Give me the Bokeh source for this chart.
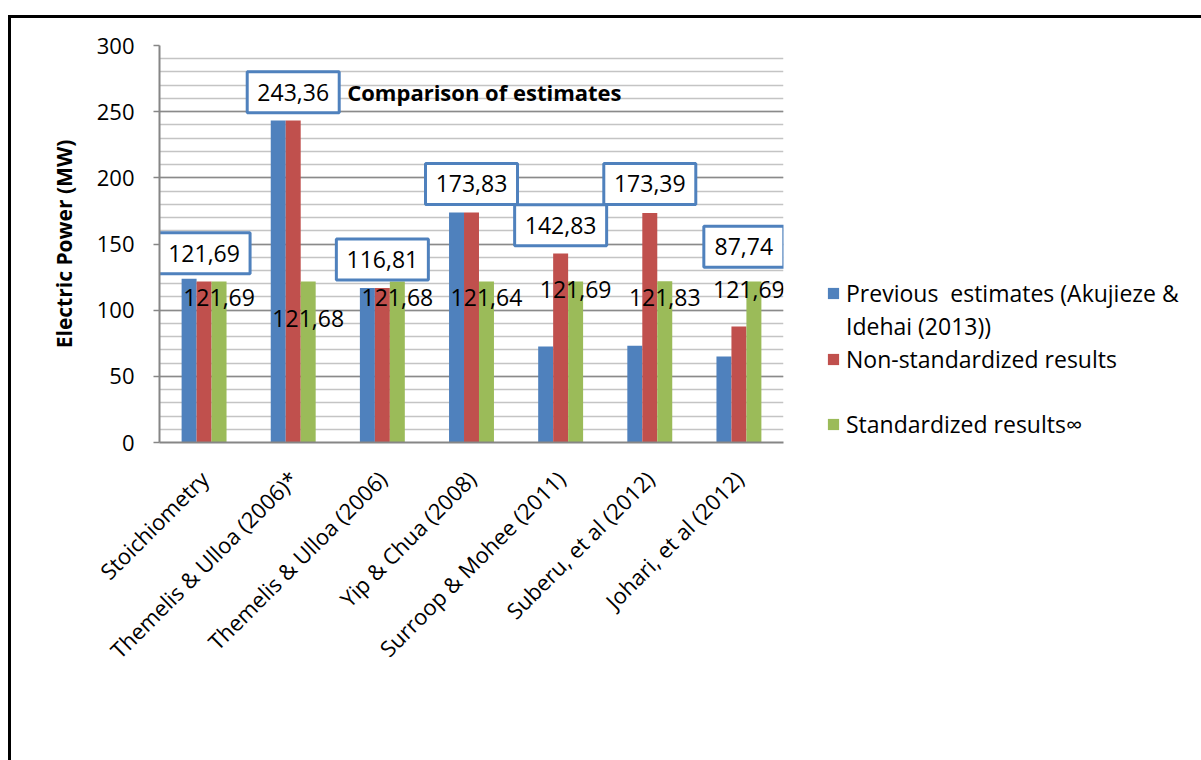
import math
from bokeh.plotting import figure
from bokeh.layouts import row
from bokeh.models import (FactorRange, Range1d, SingleIntervalTicker, Legend, LegendItem,
                          Label, ColumnDataSource)
from bokeh.transform import dodge
from bokeh.embed import file_html
from bokeh.resources import INLINE
from bokeh.core.properties import value

# ---------------- data ----------------
categories = ["Stoichiometry", "Themelis & Ulloa (2006)*", "Themelis & Ulloa (2006)",
              "Yip & Chua (2008)", "Surroop & Mohee (2011)", "Suberu, et al (2012)",
              "Johari, et al (2012)"]
previous_estimates = [123.7, 243.36, 116.81, 173.83, 72.6, 73.1, 65.0]
non_standardized = [121.69, 243.36, 116.81, 173.83, 142.83, 173.39, 87.74]
standardized = [121.69, 121.68, 121.68, 121.64, 121.69, 121.83, 121.69]
series_names = ["Previous  estimates (Akujieze &", "Non-standardized results",
                "Standardized results\u221e"]
legend_line2 = "Idehai (2013))"
chart_title = "Comparison of estimates"
y_label = "Electric Power (MW)"

# ---------------- layout / style ----------------
FONT = "Open Sans"
BLUE, RED, GREEN = "#4F81BD", "#C0504D", "#9BBB59"
W1, W2, H = 790, 400, 742
FR_LEFT, FR_RIGHT, FR_TOP, FR_BOTTOM = 148, 772, 27, 424   # frame edges in canvas px

def fmt(v):
    return f"{v:.2f}".replace(".", ",")

p = figure(x_range=FactorRange(factors=categories, range_padding=0),
           y_range=Range1d(0, 300), width=W1, height=H,
           output_backend="svg", toolbar_location=None,
           min_border_left=FR_LEFT, min_border_right=W1 - FR_RIGHT,
           min_border_top=FR_TOP, min_border_bottom=H - FR_BOTTOM)
p.outline_line_color = None
p.background_fill_color = "white"
p.border_fill_color = "white"

# axes
p.yaxis.ticker = SingleIntervalTicker(interval=50, num_minor_ticks=5)
p.yaxis.axis_line_color = "#868686"
p.yaxis.axis_line_width = 2
p.yaxis.major_tick_line_color = "#868686"
p.yaxis.major_tick_line_width = 1.5
p.yaxis.major_tick_out = 6
p.yaxis.major_tick_in = 0
p.yaxis.minor_tick_line_color = None
p.yaxis.major_label_standoff = 19
p.yaxis.major_label_text_font = FONT
p.yaxis.major_label_text_font_size = "22px"
p.yaxis.major_label_text_color = "black"
p.yaxis.axis_label = y_label
p.yaxis.axis_label_text_font = FONT
p.yaxis.axis_label_text_font_size = "21px"
p.yaxis.axis_label_text_font_style = "bold"
p.yaxis.axis_label_text_color = "black"
p.yaxis.axis_label_standoff = 16

p.xaxis.major_label_orientation = math.pi / 4
p.xaxis.major_tick_line_color = None
p.xaxis.minor_tick_line_color = None
p.xaxis.axis_line_color = "#868686"
p.xaxis.axis_line_width = 2
p.xaxis.major_label_standoff = 26
p.xaxis.major_label_text_font = FONT
p.xaxis.major_label_text_font_size = "22px"
p.xaxis.major_label_text_color = "black"

# grids
p.xgrid.grid_line_color = None
p.ygrid.grid_line_color = "#8a8a8a"
p.ygrid.grid_line_width = 1.5
p.ygrid.minor_grid_line_color = "#c4c4c4"
p.ygrid.minor_grid_line_width = 1.5

# bars
bw = 0.168
src = ColumnDataSource(dict(cat=categories, prev=previous_estimates,
                            non=non_standardized, std=standardized))
p.vbar(x=dodge("cat", -bw, range=p.x_range), top="prev", width=bw,
       source=src, fill_color=BLUE, line_color=None)
p.vbar(x=dodge("cat", 0, range=p.x_range), top="non", width=bw,
       source=src, fill_color=RED, line_color=None)
p.vbar(x=dodge("cat", bw, range=p.x_range), top="std", width=bw,
       source=src, fill_color=GREEN, line_color=None)

# boxed data labels for the non-standardized series
box_shift = [0, 0, 0, 0, 0, 0, 0.055]
box_lift = [21.4, 21.4, 21.4, 21.6, 21.4, 22.0, 60.2]
box_text = [fmt(v) for v in non_standardized]
box_src = ColumnDataSource(dict(
    x=[i + 0.5 + s for i, s in enumerate(box_shift)],
    y=[v + l for v, l in zip(non_standardized, box_lift)],
    w=[12 * len(t) + 20 for t in box_text],
    text=box_text))
p.rect(x="x", y="y", width="w", height=41, width_units="screen", height_units="screen",
       source=box_src, fill_color="white", line_color=BLUE, line_width=3)
p.text(x="x", y="y", text="text", source=box_src, text_align="center",
       text_baseline="middle", text_font=value(FONT), text_font_size="23px",
       text_color="black")

# plain data labels for the standardized series
std_src = ColumnDataSource(dict(cat=categories, y=standardized,
                                dx=[0, 0, 0, 0, 0, 0, -5],
                                dy=[16, 37, 16, 16, 8, 16, 8],
                                text=[fmt(v) for v in standardized]))
p.text(x=dodge("cat", bw, range=p.x_range), y="y", x_offset="dx", y_offset="dy",
       text="text", source=std_src, text_align="center", text_baseline="middle",
       text_font=value(FONT), text_font_size="23px", text_color="black")

# chart title, inside the plot next to the second box
p.add_layout(Label(x=box_src.data["x"][1], y=box_src.data["y"][1], x_offset=54,
                   text=chart_title, text_align="left", text_baseline="middle",
                   text_font=FONT, text_font_size="22px", text_font_style="bold",
                   text_color="black"))

# ---------------- legend panel (right-hand side of the chart object) ----------------
q = figure(width=W2, height=H, x_range=(0, 1), y_range=(0, 1), min_border=0,
           x_axis_type=None, y_axis_type=None, output_backend="svg",
           toolbar_location=None)
q.outline_line_color = None
q.background_fill_color = "white"
q.border_fill_color = "white"
q.grid.visible = False
# legend swatches (their own data lies outside the visible range)
k_prev = q.vbar(x=[5], top=[5], width=0.1, fill_color=BLUE, line_color=None)
k_non = q.vbar(x=[5], top=[5], width=0.1, fill_color=RED, line_color=None)
k_std = q.vbar(x=[5], top=[5], width=0.1, fill_color=GREEN, line_color=None)
k_blank = q.vbar(x=[5], top=[5], width=0.1, fill_alpha=0, line_alpha=0)
legend = Legend(items=[LegendItem(label=series_names[0], renderers=[k_prev]),
                       LegendItem(label=legend_line2, renderers=[k_blank]),
                       LegendItem(label=series_names[1], renderers=[k_non]),
                       LegendItem(label=" ", renderers=[k_blank]),
                       LegendItem(label=series_names[2], renderers=[k_std])],
                location=(25, 2), padding=0, margin=0, spacing=1,
                border_line_color=None, background_fill_alpha=0,
                glyph_width=14, glyph_height=14, label_height=31, label_standoff=6,
                label_text_font=FONT, label_text_font_size="23px",
                label_text_color="black")
q.add_layout(legend)

layout = row(p, q)
# outer frame of the chart object (left and top edges are visible in the window)
layout.margin = (15, 0, 0, 8)
layout.styles = {"border-left": "3px solid black", "border-top": "3px solid black"}

open("out.html", "w").write(file_html(layout, INLINE))
